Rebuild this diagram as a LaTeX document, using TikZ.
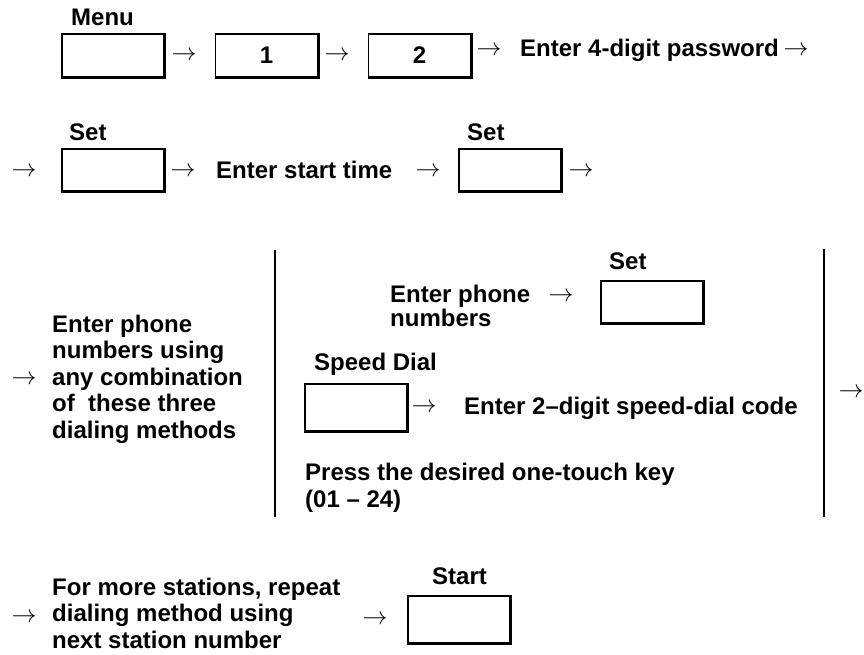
\documentclass[tikz,border=0pt]{standalone}
\usepackage{fontspec}
\setmainfont{Liberation Sans}
\newcommand{\keyfont}{\fontsize{24}{26.5}\selectfont\bfseries}
\tikzset{
  keybox/.style={draw, line width=1.3pt, minimum width=102pt, minimum height=43pt, inner sep=0pt, font=\keyfont},
  keyedge/.style={line width=2.8pt},
  lbl/.style={anchor=base west, inner sep=0pt, font=\keyfont},
  txt/.style={anchor=north west, align=left, inner sep=0pt, font=\keyfont},
  arr/.style={inner sep=0pt, font=\fontsize{24}{26}\selectfont},
  divider/.style={line width=2pt},
}
\begin{document}
\begin{tikzpicture}[x=1pt, y=-1pt]
      \useasboundingbox (0,0) rectangle (864,654);

      % Row 1: menu, 1, 2, password
      \node[lbl] (menulbl) at (71,25) {Menu};
      \node[keybox] (menukey) at (113,55.5) {};
      \node[arr] (a1) at (184,55.5) {$\rightarrow$};
      \node[keybox] (onekey) at (266.5,55.5) {1};
      \node[arr] (a2) at (337,55.5) {$\rightarrow$};
      \node[keybox] (twokey) at (419.5,55.5) {2};
      \node[arr] (a3) at (489,51) {$\rightarrow$};
      \node[lbl] (pwd) at (520,56) {Enter 4-digit password};
      \node[arr] (a4) at (796,51) {$\rightarrow$};

      % Row 2: set, start time, set
      \node[arr] (a5) at (24,172) {$\rightarrow$};
      \node[lbl] (setlbl1) at (69,140) {Set};
      \node[keybox, minimum height=42pt] (setkey1) at (113,170) {};
      \node[arr] (a6) at (183,172) {$\rightarrow$};
      \node[lbl] (starttime) at (216,178) {Enter start time};
      \node[arr] (a7) at (428,172) {$\rightarrow$};
      \node[lbl] (setlbl2) at (467,140) {Set};
      \node[keybox, minimum height=42pt] (setkey2) at (510,170) {};
      \node[arr] (a8) at (581,172) {$\rightarrow$};

      % Row 3: three dialing methods
      \node[arr] (a9) at (24,380) {$\rightarrow$};
      \node[txt] (methods) at (52,314.5) {Enter phone\\numbers using\\any combination\\of\ \ these three\\dialing methods};
      \draw[divider] (275,250) -- (275,517);
      \node[txt] (phone) at (390,284.5) {Enter phone\\[-2.2pt]numbers};
      \node[arr] (a10) at (561,297) {$\rightarrow$};
      \node[lbl] (setlbl3) at (609,269) {Set};
      \node[keybox, minimum height=42pt] (setkey3) at (652,302) {};
      \node[lbl] (speedlbl) at (314,370) {Speed Dial};
      \node[keybox, minimum height=47pt] (speedkey) at (356,407.5) {};
      \node[arr] (a11) at (424,408) {$\rightarrow$};
      \node[lbl] (speedcode) at (464,414) {Enter 2--digit speed-dial code};
      \node[txt] (onetouch) at (305,462.5) {Press the desired one-touch key\\[0.5pt](01 -- 24)};
      \draw[divider] (824,249) -- (824,517);
      \node[arr] (a12) at (851,393) {$\rightarrow$};

      % Row 4: more stations, start
      \node[arr] (a13) at (24,618) {$\rightarrow$};
      \node[txt] (more) at (52,577.5) {For more stations, repeat\\dialing method using\\next station number};
      \node[arr] (a14) at (375,620) {$\rightarrow$};
      \node[lbl] (startlbl) at (432,584) {Start};
      \node[keybox, minimum height=47pt] (startkey) at (459,619.5) {};

      % heavy right and bottom edges of the keys
      \foreach \k in {menukey,onekey,twokey,setkey1,setkey2,setkey3,speedkey,startkey}
        \draw[keyedge] (\k.north east) -- (\k.south east) -- (\k.south west);
    \end{tikzpicture}
\end{document}
